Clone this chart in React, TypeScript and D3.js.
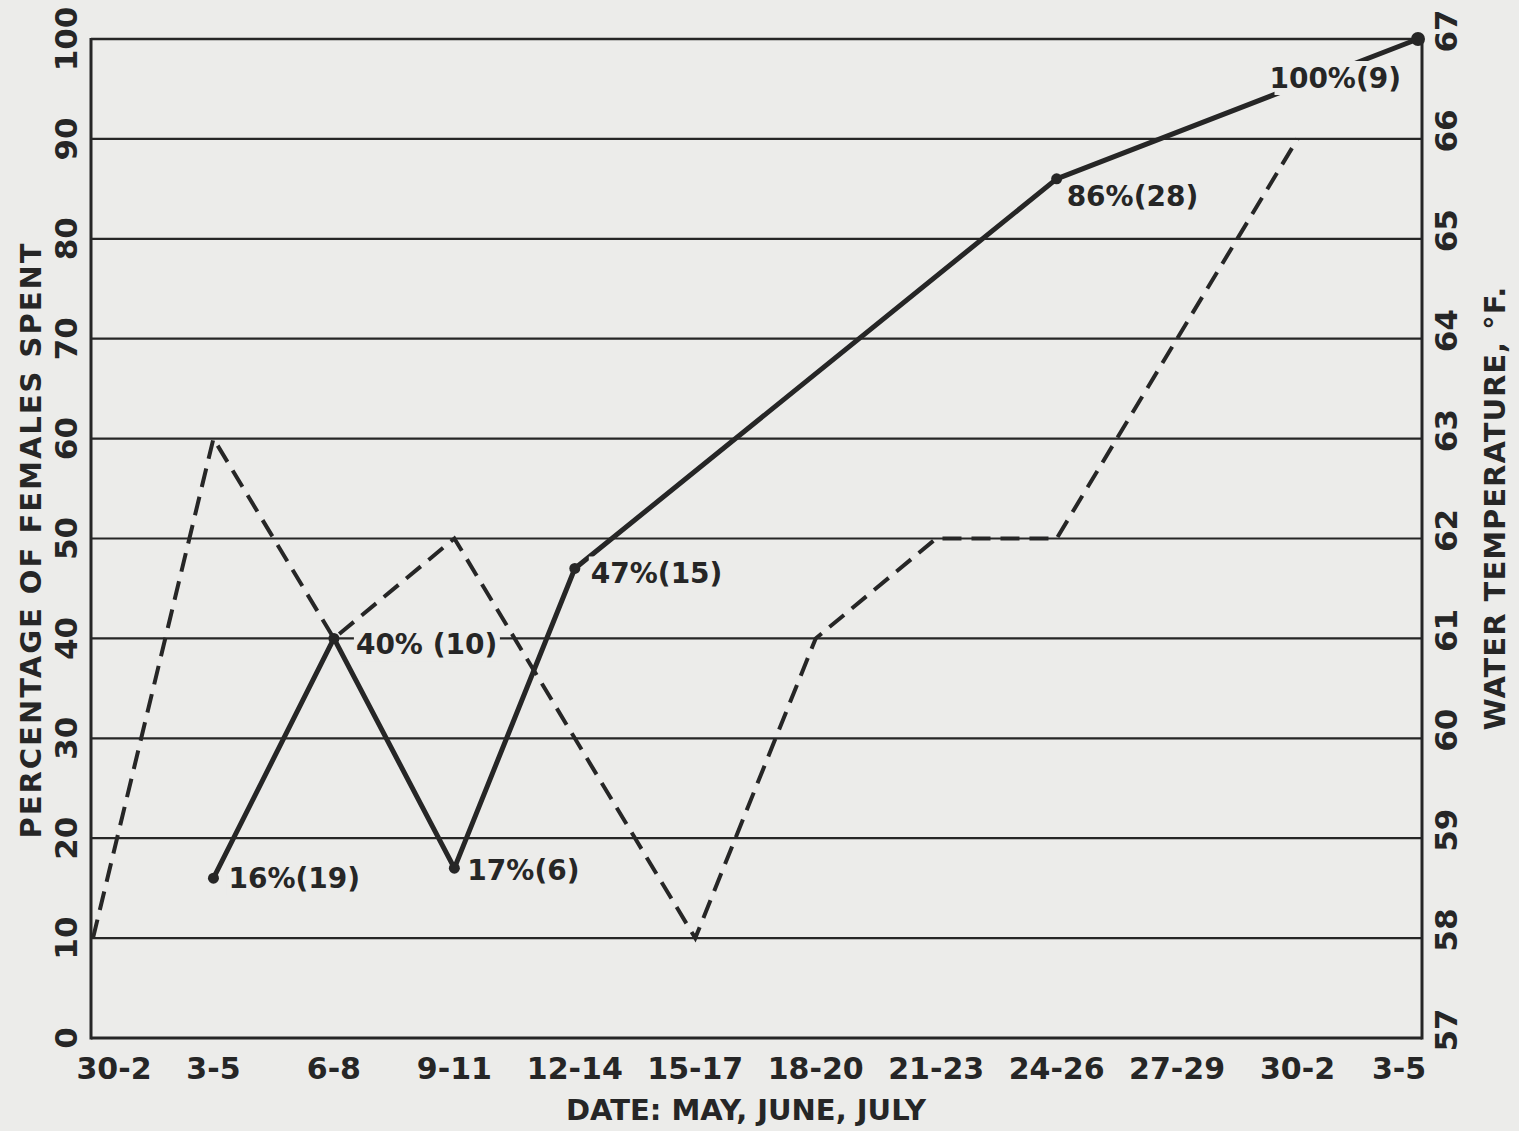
import { scaleLinear, scalePoint, line, range } from "d3";

// date periods (May, June, July)
const periods = ["30-2", "3-5", "6-8", "9-11", "12-14", "15-17", "18-20", "21-23", "24-26", "27-29", "30-2", "3-5"];
// percentage of females spent, solid line
const percentSpent = [null, 16, 40, 17, 47, null, null, null, 86, null, null, 100];
// labels next to the solid line points: percentage (number of females)
const percentLabels = [null, "16%(19)", "40% (10)", "17%(6)", "47%(15)", null, null, null, "86%(28)", null, null, "100%(9)"];
// water temperature, °F, dashed line
const waterTemp = [58, 63, 61, 62, 60, 58, 61, 62, 62, 64, 66, null];

const percentTicks = [0, 10, 20, 30, 40, 50, 60, 70, 80, 90, 100];
const tempTicks = [57, 58, 59, 60, 61, 62, 63, 64, 65, 66, 67];

const W = 1519;
const H = 1131;
const left = 91;
const right = 1422;
const top = 39;
const bottom = 1038;

const paper = "#ececea";
const ink = "#262626";
const font = "'DejaVu Sans', sans-serif";

// where each point label sits relative to its point
const labelPlace: Record<number, { dx: number; dy: number; anchor: string }> = {
  1: { dx: 15, dy: 0, anchor: "start" },
  2: { dx: 22, dy: 6, anchor: "start" },
  3: { dx: 13, dy: 2, anchor: "start" },
  4: { dx: 16, dy: 5, anchor: "start" },
  8: { dx: 10, dy: 18, anchor: "start" },
  11: { dx: -17, dy: 39, anchor: "end" },
};

export default function App() {
  const x = scalePoint<number>().domain(range(periods.length)).range([left + 2, right - 4]);
  const y = scaleLinear().domain([0, 100]).range([bottom, top]);
  const yT = scaleLinear().domain([57, 67]).range([bottom, top]);

  const solidPts = percentSpent
    .map((v, i) => (v == null ? null : ([x(i)!, y(v)] as [number, number])))
    .filter((d): d is [number, number] => d != null);
  const dashPts = waterTemp
    .map((v, i) => (v == null ? null : ([x(i)!, yT(v)] as [number, number])))
    .filter((d): d is [number, number] => d != null);
  const path = line<[number, number]>();

  return (
    <svg
      width={W}
      height={H}
      style={{ position: "absolute", left: 0, top: 0, background: paper }}
      fontFamily={font}
      fill={ink}
    >
      <rect width={W} height={H} fill={paper} />

      {/* horizontal grid */}
      {percentTicks.slice(1, -1).map((t) => (
        <line key={t} x1={left} x2={right} y1={y(t)} y2={y(t)} stroke={ink} strokeWidth={2.2} />
      ))}
      {/* frame */}
      <line x1={left} x2={right} y1={top} y2={top} stroke={ink} strokeWidth={2.6} />
      <line x1={left} x2={right} y1={bottom} y2={bottom} stroke={ink} strokeWidth={3.2} />
      <line x1={left} x2={left} y1={top - 1} y2={bottom + 1.5} stroke={ink} strokeWidth={3} />
      <line x1={right} x2={right} y1={top - 1} y2={bottom + 1.5} stroke={ink} strokeWidth={3} />

      {/* temperature, dashed */}
      <path d={path(dashPts)!} fill="none" stroke={ink} strokeWidth={4} strokeDasharray="19,10" />

      {/* percentage spent, solid */}
      <path d={path(solidPts)!} fill="none" stroke={ink} strokeWidth={5} strokeLinejoin="round" />
      {percentSpent.map((v, i) =>
        v == null ? null : <circle key={i} cx={x(i)} cy={y(v)} r={i === periods.length - 1 ? 7 : 5.5} fill={ink} />
      )}

      {/* point labels, masking the lines behind them */}
      {percentLabels.map((lab, i) => {
        if (lab == null) return null;
        const p = labelPlace[i];
        const v = percentSpent[i]!;
        const tx = x(i)! + p.dx;
        const ty = y(v) + p.dy;
        const w = lab.length * 17.5;
        const rx = p.anchor === "end" ? tx - w - 4 : tx - 2;
        return (
          <g key={i}>
            <rect x={rx} y={ty - 17} width={w + 6} height={34} fill={paper} />
            <text x={tx} y={ty} textAnchor={p.anchor} dominantBaseline="central" fontSize={28} fontWeight="bold">
              {lab}
            </text>
          </g>
        );
      })}

      {/* left axis ticks */}
      {percentTicks.map((t) => (
        <text
          key={t}
          transform={`translate(66,${y(t)}) rotate(-90)`}
          textAnchor="middle"
          dominantBaseline="central"
          fontSize={31}
          fontWeight="bold"
        >
          {t}
        </text>
      ))}
      {/* right axis ticks */}
      {tempTicks.map((t) => (
        <text
          key={t}
          transform={`translate(1446,${yT(t) - 8}) rotate(-90)`}
          textAnchor="middle"
          dominantBaseline="central"
          fontSize={31}
          fontWeight="bold"
        >
          {t}
        </text>
      ))}

      {/* x labels */}
      {periods.map((p, i) => (
        <text
          key={i}
          x={x(i)! + (i === 0 ? 21 : i === periods.length - 1 ? -19 : 0)}
          y={1068}
          textAnchor="middle"
          dominantBaseline="central"
          fontSize={30}
          fontWeight="bold"
        >
          {p}
        </text>
      ))}

      {/* titles */}
      <text x={746} y={1110} textAnchor="middle" dominantBaseline="central" fontSize={29} fontWeight="bold">
        DATE: MAY, JUNE, JULY
      </text>
      <text
        transform={`translate(31,540) rotate(-90)`}
        textAnchor="middle"
        dominantBaseline="central"
        fontSize={29}
        fontWeight="bold"
        letterSpacing={2}
      >
        PERCENTAGE OF FEMALES SPENT
      </text>
      <text
        transform={`translate(1495,508) rotate(-90)`}
        textAnchor="middle"
        dominantBaseline="central"
        fontSize={29}
        fontWeight="bold"
        letterSpacing={1}
      >
        WATER TEMPERATURE, °F.
      </text>
    </svg>
  );
}
